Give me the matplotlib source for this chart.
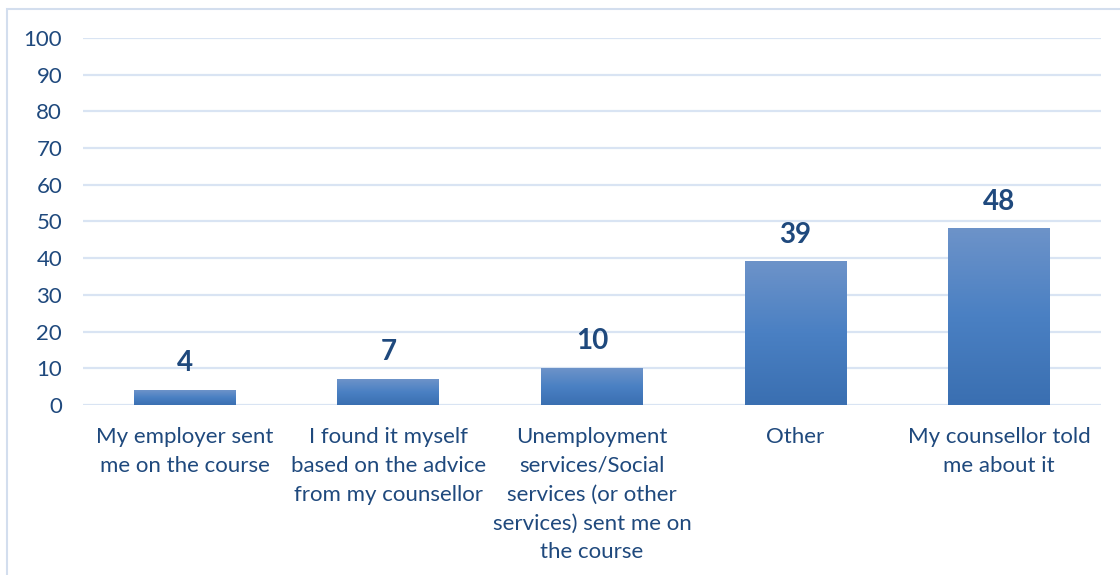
import numpy as np
import matplotlib.pyplot as plt
import matplotlib.patches as mpatches
from matplotlib.colors import LinearSegmentedColormap

categories = [
    "My employer sent\nme on the course",
    "I found it myself\nbased on the advice\nfrom my counsellor",
    "Unemployment\nservices/Social\nservices (or other\nservices) sent me on\nthe course",
    "Other",
    "My counsellor told\nme about it",
]
values = [4, 7, 10, 39, 48]
yticks = [0, 10, 20, 30, 40, 50, 60, 70, 80, 90, 100]

text_col = "#1F497D"
grid_col = "#D9E4F3"
plt.rcParams["font.family"] = ["Lato", "DejaVu Sans"]

fig = plt.figure(figsize=(11.2, 5.75), dpi=100)
ax = fig.add_axes([0.0741, 0.2957, 0.9089, 0.6382])

# border around chart
fig.patches.append(mpatches.Rectangle((7 / 1120, -0.01), 1.02, 1 - 9 / 575 + 0.01,
                                      transform=fig.transFigure, fill=False,
                                      edgecolor="#D3DEEE", linewidth=1.5))

x = np.arange(len(values))
bars = ax.bar(x, values, width=0.5, color="none", edgecolor="none", zorder=3)

cmap = LinearSegmentedColormap.from_list("grad", ["#3A6FB1", "#4A80C3", "#6D93C9"])
grad = np.linspace(0, 1, 256).reshape(-1, 1)
for b, v in zip(bars, values):
    x0 = b.get_x()
    ax.imshow(grad, extent=(x0, x0 + b.get_width(), 0, v), origin="lower",
              aspect="auto", cmap=cmap, zorder=3)
    ax.annotate(str(v), (b.get_x() + b.get_width() / 2, v), xytext=(0, 10),
                textcoords="offset points", ha="center", va="bottom",
                fontsize=20, fontweight="bold", color=text_col)

ax.set_xlim(-0.5, len(values) - 0.5)
ax.set_ylim(0, 100)
ax.set_yticks(yticks)
ax.set_xticks(x)
ax.set_xticklabels(categories, linespacing=1.55)
ax.yaxis.grid(True, color=grid_col, linewidth=1.6, zorder=0)
ax.set_axisbelow(True)
for s in ax.spines.values():
    s.set_visible(False)
ax.tick_params(axis="both", length=0, labelsize=16, labelcolor=text_col)
ax.tick_params(axis="y", pad=15)
ax.tick_params(axis="x", pad=16)

fig.savefig("out.png", dpi=100)
